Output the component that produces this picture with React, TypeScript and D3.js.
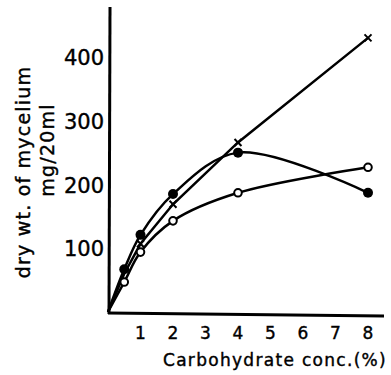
import React, { useEffect, useRef } from 'react';
import * as d3 from 'd3';

// Carbohydrate concentration (%) and dry weight of mycelium (mg/20 ml)
const crossSeries: [number, number][] = [[0, 0], [0.5, 60], [1, 107], [2, 169], [4, 266], [8, 430]];
const filledSeries: [number, number][] = [[0, 0], [0.5, 67], [1, 121], [2, 185], [4, 250], [8, 187]];
const openSeries: [number, number][] = [[0, 0], [0.5, 47], [1, 94], [2, 143], [4, 187], [8, 227]];
const xTicks = [1, 2, 3, 4, 5, 6, 7, 8];
const yTicks = [100, 200, 300, 400];

const App = () => {
  const ref = useRef<SVGSVGElement>(null);

  useEffect(() => {
    const svg = d3.select(ref.current);
    svg.selectAll('*').remove();

    const x = d3.scaleLinear().domain([0, 8]).range([108, 368]);
    const y = d3.scaleLinear().domain([0, 400]).range([312, 57]);
    const font = '"DejaVu Sans", sans-serif';

    // axes (no tick marks in the original)
    svg.append('line')
      .attr('x1', 110).attr('y1', 7).attr('x2', 109).attr('y2', 314)
      .attr('stroke', '#000').attr('stroke-width', 3);
    svg.append('line')
      .attr('x1', 108).attr('y1', 313).attr('x2', 384).attr('y2', 316)
      .attr('stroke', '#000').attr('stroke-width', 3);

    const label = (sel: d3.Selection<SVGTextElement, any, any, any>, size: number) =>
      sel.attr('font-family', font)
        .attr('font-size', size)
        .attr('stroke', '#000')
        .attr('stroke-width', 0.4);

    // tick labels
    svg.selectAll('.xtick')
      .data(xTicks)
      .enter()
      .append('text')
      .attr('x', d => x(d))
      .attr('y', 339)
      .attr('text-anchor', 'middle')
      .call(s => label(s, 17))
      .text(d => d);

    svg.selectAll('.ytick')
      .data(yTicks)
      .enter()
      .append('text')
      .attr('x', 104)
      .attr('y', d => y(d) + 8)
      .attr('text-anchor', 'end')
      .call(s => label(s, 21))
      .text(d => d);

    // axis titles
    svg.append('text')
      .attr('x', 387)
      .attr('y', 366)
      .attr('text-anchor', 'end')
      .attr('letter-spacing', 1.3)
      .call(s => label(s, 17))
      .text('Carbohydrate conc.(%)');

    svg.append('text')
      .attr('transform', 'translate(30,172) rotate(-90)')
      .attr('text-anchor', 'middle')
      .attr('letter-spacing', 1.2)
      .call(s => label(s, 19))
      .text('dry wt. of mycelium');

    svg.append('text')
      .attr('transform', 'translate(54,150) rotate(-90)')
      .attr('text-anchor', 'middle')
      .attr('letter-spacing', 1.2)
      .call(s => label(s, 19))
      .text('mg/20ml');

    // lines
    const straight = d3.line<[number, number]>()
      .x(d => x(d[0])).y(d => y(d[1]));
    const smooth = d3.line<[number, number]>()
      .x(d => x(d[0])).y(d => y(d[1]))
      .curve(d3.curveCatmullRom.alpha(0.5));

    svg.append('path').attr('d', straight(crossSeries))
      .attr('fill', 'none').attr('stroke', '#000').attr('stroke-width', 2.5);
    svg.append('path').attr('d', smooth(filledSeries))
      .attr('fill', 'none').attr('stroke', '#000').attr('stroke-width', 2.5);
    svg.append('path').attr('d', smooth(openSeries))
      .attr('fill', 'none').attr('stroke', '#000').attr('stroke-width', 2.5);

    // markers
    svg.selectAll('.filled')
      .data(filledSeries.slice(1))
      .enter()
      .append('circle')
      .attr('cx', d => x(d[0])).attr('cy', d => y(d[1]))
      .attr('r', 5).attr('fill', '#000');

    svg.selectAll('.open')
      .data(openSeries.slice(1))
      .enter()
      .append('circle')
      .attr('cx', d => x(d[0])).attr('cy', d => y(d[1]))
      .attr('r', 3.8).attr('fill', '#fff')
      .attr('stroke', '#000').attr('stroke-width', 2);

    svg.selectAll('.cross')
      .data(crossSeries.slice(2))
      .enter()
      .append('path')
      .attr('d', d => {
        const cx = x(d[0]);
        const cy = y(d[1]);
        return `M${cx - 3.5},${cy - 3.5}L${cx + 3.5},${cy + 3.5}M${cx - 3.5},${cy + 3.5}L${cx + 3.5},${cy - 3.5}`;
      })
      .attr('stroke', '#000').attr('stroke-width', 2);
  }, []);

  return (
    <svg
      ref={ref}
      width={391}
      height={375}
      style={{ position: 'absolute', left: 0, top: 0, background: '#fff' }}
    />
  );
};

export default App;
